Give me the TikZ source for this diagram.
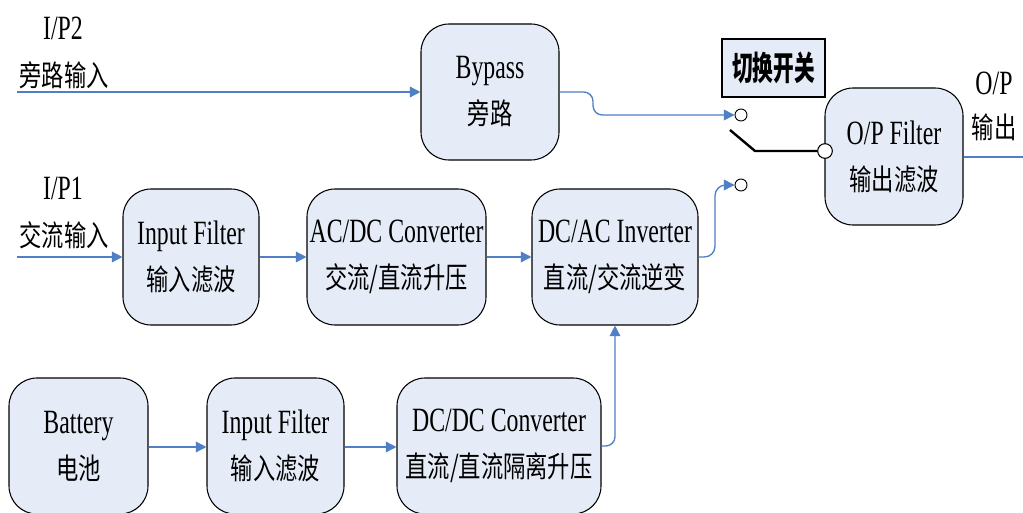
\documentclass[tikz,border=0pt]{standalone}
\usepackage{fontspec}
\setmainfont{Liberation Serif}[FakeStretch=0.7]
\newfontfamily\cjk{Noto Sans CJK SC}[FakeStretch=0.76]
\newfontfamily\cjkb{Noto Sans CJK SC}[FakeStretch=0.62]
\usetikzlibrary{arrows.meta}
\definecolor{boxfill}{HTML}{E6ECF7}
\definecolor{flowblue}{HTML}{4F7FC4}
\newcommand\zh[1]{{\cjk\fontsize{22}{34.5}\selectfont #1}}
\tikzset{
  blk/.style={draw=black, line width=0.8pt, fill=boxfill, rounded corners=21pt,
    align=center, inner sep=0pt, font=\fontsize{25.5}{34.5}\selectfont},
  flow/.style={draw=flowblue, line width=1pt, -{Triangle[length=8pt,width=8pt]}},
  lbl/.style={align=center, inner sep=0pt},
  swc/.style={circle, draw=black, line width=0.8pt, fill=white, inner sep=0pt, minimum size=#1},
}
\begin{document}
\begin{tikzpicture}[x=0.75pt,y=-0.75pt]
\useasboundingbox (0,0) rectangle (1023,513);
\clip (0,0) rectangle (1023,513);
\fill[white] (0,0) rectangle (1023,513);
% boxes
\node[blk, minimum width=103.5pt, minimum height=102pt] (bypass) at (490,92) {Bypass\\\zh{旁路}};
\node[blk, minimum width=102pt, minimum height=102pt] (inf1) at (191,257) {Input Filter\\\zh{输入滤波}};
\node[blk, minimum width=134.25pt, minimum height=102pt] (acdc) at (396.5,257) {AC/DC Converter\\\zh{交流/直流升压}};
\node[blk, minimum width=124.5pt, minimum height=102pt] (dcac) at (615,257) {DC/AC Inverter\\\zh{直流/交流逆变}};
\node[blk, minimum width=103.5pt, minimum height=102.75pt] (opf) at (894,156.5) {O/P Filter\\\zh{输出滤波}};
\node[blk, minimum width=104.25pt, minimum height=102pt] (bat) at (78.5,446) {Battery\\\zh{电池}};
\node[blk, minimum width=102.75pt, minimum height=102pt] (inf2) at (275.5,446) {Input Filter\\\zh{输入滤波}};
\node[blk, minimum width=153pt, minimum height=102pt] (dcdc) at (499,446) {DC/DC Converter\\\zh{直流/直流隔离升压}};
\node[draw=black, line width=0.8pt, fill=boxfill, minimum width=77.25pt, minimum height=43.5pt, inner sep=0pt] (swlbl) at (773.5,68) {\cjkb\bfseries\fontsize{25}{25}\selectfont 切换开关};
% labels
\node[lbl, font=\fontsize{25.5}{25}\selectfont] (ip2) at (63,28) {I/P2};
\node[lbl] (ip2z) at (64,75) {\zh{旁路输入}};
\node[lbl, font=\fontsize{25.5}{25}\selectfont] (ip1) at (63,188) {I/P1};
\node[lbl] (ip1z) at (64,235) {\zh{交流输入}};
\node[lbl, font=\fontsize{25.5}{25}\selectfont] (op) at (994,83) {O/P};
\node[lbl] (opz) at (994,127) {\zh{输出}};
% switch contacts
\node[swc=9pt, line width=0.7pt] (c1) at (741,115) {};
\node[swc=9pt, line width=0.7pt] (c2) at (741,185) {};
\coordinate (in2) at (17,92);
\coordinate (in1) at (17,257);
\coordinate (out) at (1034,157);
\coordinate (armtip) at (730,130);
\coordinate (armknee) at (755,151);
% connectors
\draw[flow] (in2) -- (bypass.west |- in2);
\draw[flow] (in1) -- (inf1.west);
\draw[flow] (inf1.east) -- (acdc.west);
\draw[flow] (acdc.east) -- (dcac.west);
\draw[flow] (bat.east |- 0,447) -- (inf2.west |- 0,447);
\draw[flow] (inf2.east |- 0,447) -- (dcdc.west |- 0,447);
\draw[flow, rounded corners=7pt] (dcdc.east) -| (dcac.south);
\draw[flow, rounded corners=7pt] (bypass.east) -- (593,92) -- (593,115) -- (c1.west);
\draw[flow, rounded corners=8pt] (dcac.east) -- (715,257) -- (715,185) -- (c2.west);
\draw[flow] (opf.east |- out) -- (out);
% switch arm
\node[swc=11pt] (c3) at (825,151) {};
\draw[black, line width=1.8pt] (armtip) -- (armknee) -- (c3.west);
\end{tikzpicture}
\end{document}
